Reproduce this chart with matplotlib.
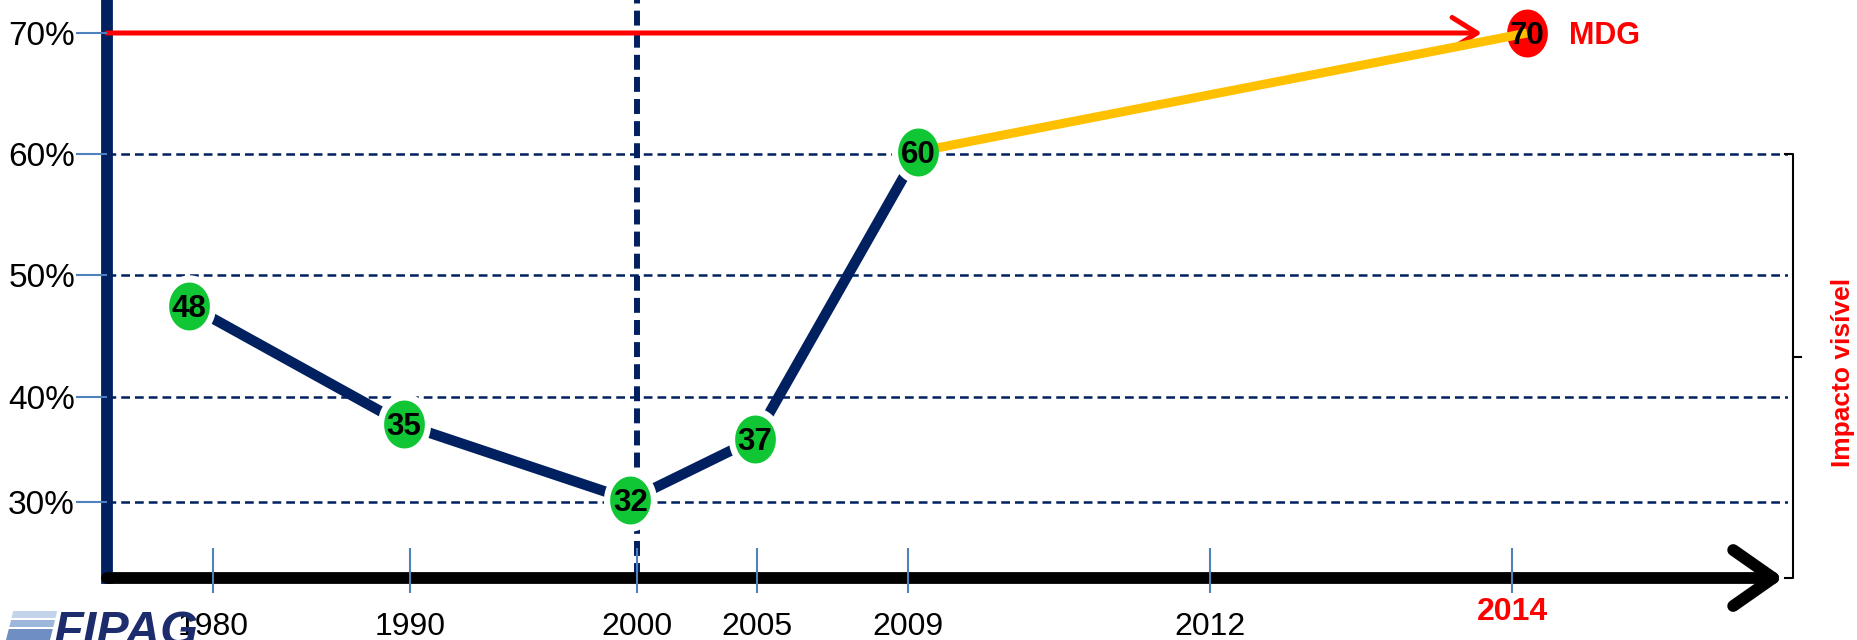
import numpy as np
import matplotlib
matplotlib.use('Agg')
import matplotlib.pyplot as plt
from matplotlib.path import Path
from matplotlib.patches import Polygon
import matplotlib.transforms as mtransforms

plt.rcParams['font.family'] = ['Liberation Sans', 'DejaVu Sans']

# ---------------- data ----------------
years = [1978.8, 1989.7, 1999.7, 2004.9, 2009.1]      # observed points (x)
coverage = [47.5, 37.4, 30.2, 36.0, 60.2]             # plotted level (%)
point_labels = ['48', '35', '32', '37', '60']
target_year = 2014.1
target_level = 70
target_label = '70'
mdg_arrow_end = 2013.8
tick_years = [1980, 1990, 2000, 2005, 2009, 2012, 2014]
tick_year_labels = ['1980', '1990', '2000', '2005', '2009', '2012', '']
highlight_year = 2014
highlight_label = '2014'
y_ticks = [30, 40, 50, 60, 70]
y_tick_labels = ['30%', '40%', '50%', '60%', '70%']
grid_levels = [30, 40, 50, 60]
reference_year = 2000

# ---------------- style ----------------
W, H = 1857, 640
NAVY = '#002060'
GREEN = '#10C634'
RED = '#FF0000'
YELLOW = '#FFC000'
TICKBLUE = '#4F81BD'

# non-uniform axis spacing of the original drawing (pixels inside the axes)
X_KNOTS = [1970, 1980, 1990, 2000, 2005, 2009, 2012, 2014, 2020]
X_PIX = [-91, 106, 303, 530, 650, 801, 1103, 1405, 2311]
Y_KNOTS = [0, 30, 40, 50, 60, 70, 100]
Y_PIX = [-239, 76, 181, 303, 424, 545, 908]


def fx(v):
    return np.interp(v, X_KNOTS, X_PIX)


def fx_inv(u):
    return np.interp(u, X_PIX, X_KNOTS)


def fy(v):
    return np.interp(v, Y_KNOTS, Y_PIX)


def fy_inv(u):
    return np.interp(u, Y_PIX, Y_KNOTS)


AX_L, AX_R, AX_B = 107, 1788, 578
fig = plt.figure(figsize=(W / 100, H / 100), dpi=100)
ax = fig.add_axes([AX_L / W, (H - AX_B) / H, (AX_R - AX_L) / W, AX_B / H])
ax.set_xscale('function', functions=(fx, fx_inv))
ax.set_yscale('function', functions=(fy, fy_inv))
x0, x1 = float(fx_inv(0)), float(fx_inv(AX_R - AX_L))
y0, y1 = float(fy_inv(0)), float(fy_inv(AX_B))
ax.set_xlim(x0, x1)
ax.set_ylim(y0, y1)

for s in ['top', 'right', 'bottom']:
    ax.spines[s].set_visible(False)
ax.spines['left'].set_color(NAVY)
ax.spines['left'].set_linewidth(8.5)

ax.set_xticks(tick_years)
ax.set_xticklabels(tick_year_labels)
ax.set_xticks(tick_years, minor=True)
ax.xaxis.remove_overlapping_locs = False
ax.set_yticks(y_ticks)
ax.set_yticklabels(y_tick_labels)
ax.yaxis.set_minor_locator(matplotlib.ticker.NullLocator())
ax.tick_params(axis='x', which='major', direction='in', length=21.6, width=1.5,
               color=TICKBLUE, pad=24.5, labelsize=23)
ax.tick_params(axis='x', which='minor', direction='out', length=10.8, width=1.5,
               color=TICKBLUE)
ax.tick_params(axis='y', direction='out', length=22, width=1.5, color=TICKBLUE,
               pad=1, labelsize=24)
ax.xaxis.set_zorder(9)
ax.yaxis.set_zorder(9)

# grid lines
for g in grid_levels:
    ax.axhline(g, color=NAVY, lw=1.8, ls=(0, (3.5, 2)), zorder=1)

# reference year vertical dashed line
ax.axvline(reference_year, color=NAVY, lw=4.3, ls=(0, (2.5, 1.2)), zorder=2)

# MDG red arrow
ax.annotate('', xy=(mdg_arrow_end, target_level), xytext=(x0, target_level),
            arrowprops=dict(arrowstyle='->,head_length=0.45,head_width=0.28', color=RED,
                            lw=3.6, mutation_scale=40, shrinkA=0, shrinkB=0),
            annotation_clip=False, zorder=3)

# x axis arrow
ax.annotate('', xy=(x1 - 0.03, 0), xycoords=('data', 'axes fraction'),
            xytext=(x0, 0), textcoords=('data', 'axes fraction'),
            arrowprops=dict(arrowstyle='->,head_length=0.4,head_width=0.28', color='black',
                            lw=8.5, mutation_scale=72, shrinkA=0, shrinkB=0,
                            capstyle='round', joinstyle='round'),
            annotation_clip=False, zorder=3)

# ellipse marker
t = np.linspace(0, 2 * np.pi, 90)
ELLIPSE = Path(np.column_stack([0.85 * np.cos(t), np.sin(t)]), closed=True)

ax.plot(years, coverage, color=NAVY, lw=7.5, zorder=4, solid_capstyle='butt')
ax.plot(years, coverage, ls='none', marker=ELLIPSE, ms=45, mfc='white', mec='none', zorder=5)
ax.plot([target_year], [target_level], ls='none', marker=ELLIPSE, ms=34.5, mfc=RED,
        mec='none', zorder=5)
ax.plot([years[-1], target_year], [coverage[-1], target_level], color=YELLOW, lw=6.5,
        zorder=6, solid_capstyle='butt')
ax.plot(years, coverage, ls='none', marker=ELLIPSE, ms=34.5, mfc=GREEN, mec='none', zorder=7)

for xv, yv, lab in zip(years + [target_year], coverage + [target_level],
                       point_labels + [target_label]):
    ax.annotate(lab, xy=(xv, yv), xytext=(0, -8), textcoords='offset points',
                ha='center', va='baseline', fontsize=22.5, fontweight='bold',
                color='black', zorder=8)

ax.annotate('MDG', xy=(target_year, target_level), xytext=(30, -8),
            textcoords='offset points', ha='left', va='baseline', fontsize=22,
            fontweight='bold', color=RED, zorder=8, annotation_clip=False)

ax.annotate(highlight_label, xy=(highlight_year, 0), xycoords=('data', 'axes fraction'),
            xytext=(0, -13.7), textcoords='offset points', ha='center', va='top',
            fontsize=23, fontweight='bold', color=RED, annotation_clip=False)

# bracket on the right
trans = mtransforms.blended_transform_factory(ax.transAxes, ax.transData)
ax.plot([0.9985, 1.003, 1.003, 0.9985], [60, 60, y0, y0], color='black', lw=1.5,
        transform=trans, clip_on=False, zorder=3)
ax.plot([1.003, 1.0077], [0.382, 0.382], color='black', lw=1.5,
        transform=ax.transAxes, clip_on=False, zorder=3)

fig.text(1843 / W, 1 - 372 / H, 'Impacto visível', rotation=90, ha='center', va='center',
         color=RED, fontweight='bold', fontsize=19)

# logo
for (ya, yb, c) in [(611, 618, '#C3D4EA'), (620, 627, '#9DB7DA'), (629, 640, '#6F8FC2')]:
    pts = [(6 + (640 - yb) * 0.25, yb), (50 + (640 - yb) * 0.25, yb),
           (50 + (640 - ya) * 0.25, ya), (6 + (640 - ya) * 0.25, ya)]
    fig.patches.append(Polygon([(px / W, 1 - py / H) for px, py in pts], closed=True,
                               transform=fig.transFigure, facecolor=c, edgecolor='none'))
fig.text(53 / W, -5 / H, 'FIPAG', fontsize=35, fontweight='heavy', fontstyle='italic',
         color='#1C2C6C', ha='left', va='baseline')

fig.savefig('out.png', dpi=100)
